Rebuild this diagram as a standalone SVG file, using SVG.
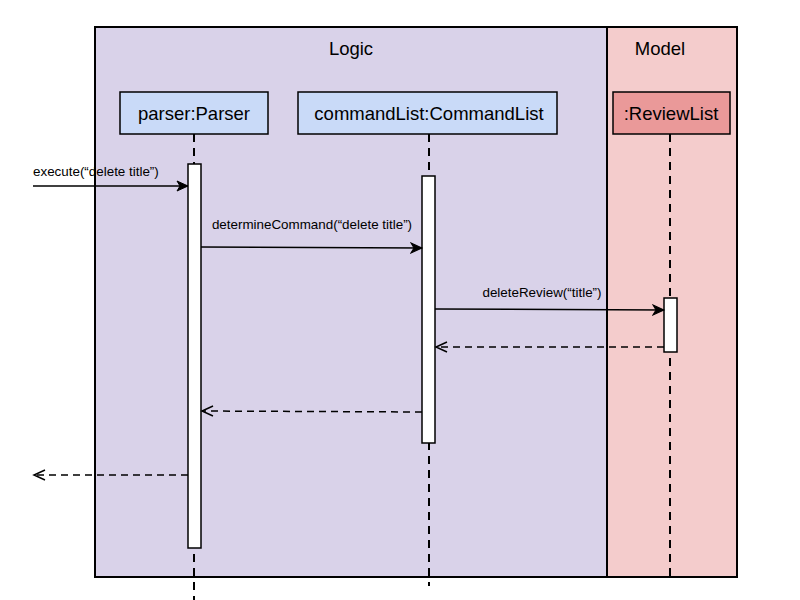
<svg xmlns="http://www.w3.org/2000/svg" width="800" height="600" viewBox="0 0 800 600">
<defs>
<style>
.frame{stroke:#000;stroke-width:2}
.box{stroke:#000;stroke-width:1.5}
.life{stroke:#000;stroke-width:2;stroke-dasharray:8,6;fill:none}
.act{fill:#fff;stroke:#000;stroke-width:1.5}
.msg{stroke:#000;stroke-width:1.5;fill:none}
.ret{stroke:#000;stroke-width:1.5;fill:none;stroke-dasharray:7,5}
.t16{font-family:"Liberation Sans",Arial,sans-serif;font-size:18.5px;fill:#000}
.t11{font-family:"Liberation Sans",Arial,sans-serif;font-size:13.4px;fill:#000}
</style>
<marker id="arr" markerWidth="14" markerHeight="12" refX="12" refY="6" orient="auto" markerUnits="userSpaceOnUse">
<path d="M1,1 L12,6 L1,11 L4,6 Z" fill="#000" stroke="#000" stroke-width="1"/>
</marker>
<marker id="open" markerWidth="14" markerHeight="12" refX="12" refY="6" orient="auto" markerUnits="userSpaceOnUse">
<path d="M1,1 L12,6 L1,11" fill="none" stroke="#000" stroke-width="1.5"/>
</marker>
</defs>
<rect width="800" height="600" fill="#fff"/>
<g id="logic">
<rect class="frame" x="95" y="27" width="512" height="550" fill="#d9d2e9"/>
<text class="t16" x="351" y="55" text-anchor="middle">Logic</text>
</g>
<g id="model">
<rect class="frame" x="607" y="27" width="130" height="550" fill="#f4cccc"/>
<text class="t16" x="660" y="55" text-anchor="middle">Model</text>
</g>
<g id="parser">
<line class="life" x1="194" y1="134" x2="194" y2="600"/>
<rect class="box" x="120" y="92" width="148" height="42" fill="#c9daf8"/>
<text class="t16" x="194" y="120" text-anchor="middle">parser:Parser</text>
<rect class="act" x="188" y="164" width="13" height="384"/>
</g>
<g id="commandList">
<line class="life" x1="429" y1="134" x2="429" y2="586"/>
<rect class="box" x="298" y="92" width="259" height="42" fill="#c9daf8"/>
<text class="t16" x="429" y="120" text-anchor="middle">commandList:CommandList</text>
<rect class="act" x="422" y="176" width="13" height="267"/>
</g>
<g id="reviewList">
<line class="life" x1="670" y1="134" x2="670" y2="576"/>
<rect class="box" x="613" y="92" width="117" height="42" fill="#ea9999"/>
<text class="t16" x="671" y="120" text-anchor="middle">:ReviewList</text>
<rect class="act" x="664" y="298" width="13" height="54"/>
</g>
<g id="connectors">
<line class="msg" x1="33" y1="186" x2="188" y2="186" marker-end="url(#arr)"/>
<text class="t11" x="33" y="176">execute(“delete title”)</text>
<line class="msg" x1="201" y1="247" x2="422" y2="248" marker-end="url(#arr)"/>
<text class="t11" x="312" y="229" text-anchor="middle">determineCommand(“delete title”)</text>
<line class="msg" x1="435" y1="309" x2="664" y2="310" marker-end="url(#arr)"/>
<text class="t11" x="542" y="297" text-anchor="middle">deleteReview(“title”)</text>
<line class="ret" x1="664" y1="347" x2="436" y2="347" marker-end="url(#open)"/>
<line class="ret" x1="422" y1="412" x2="202" y2="411" marker-end="url(#open)"/>
<line class="ret" x1="188" y1="475" x2="34" y2="475" marker-end="url(#open)"/>
</g>
</svg>
